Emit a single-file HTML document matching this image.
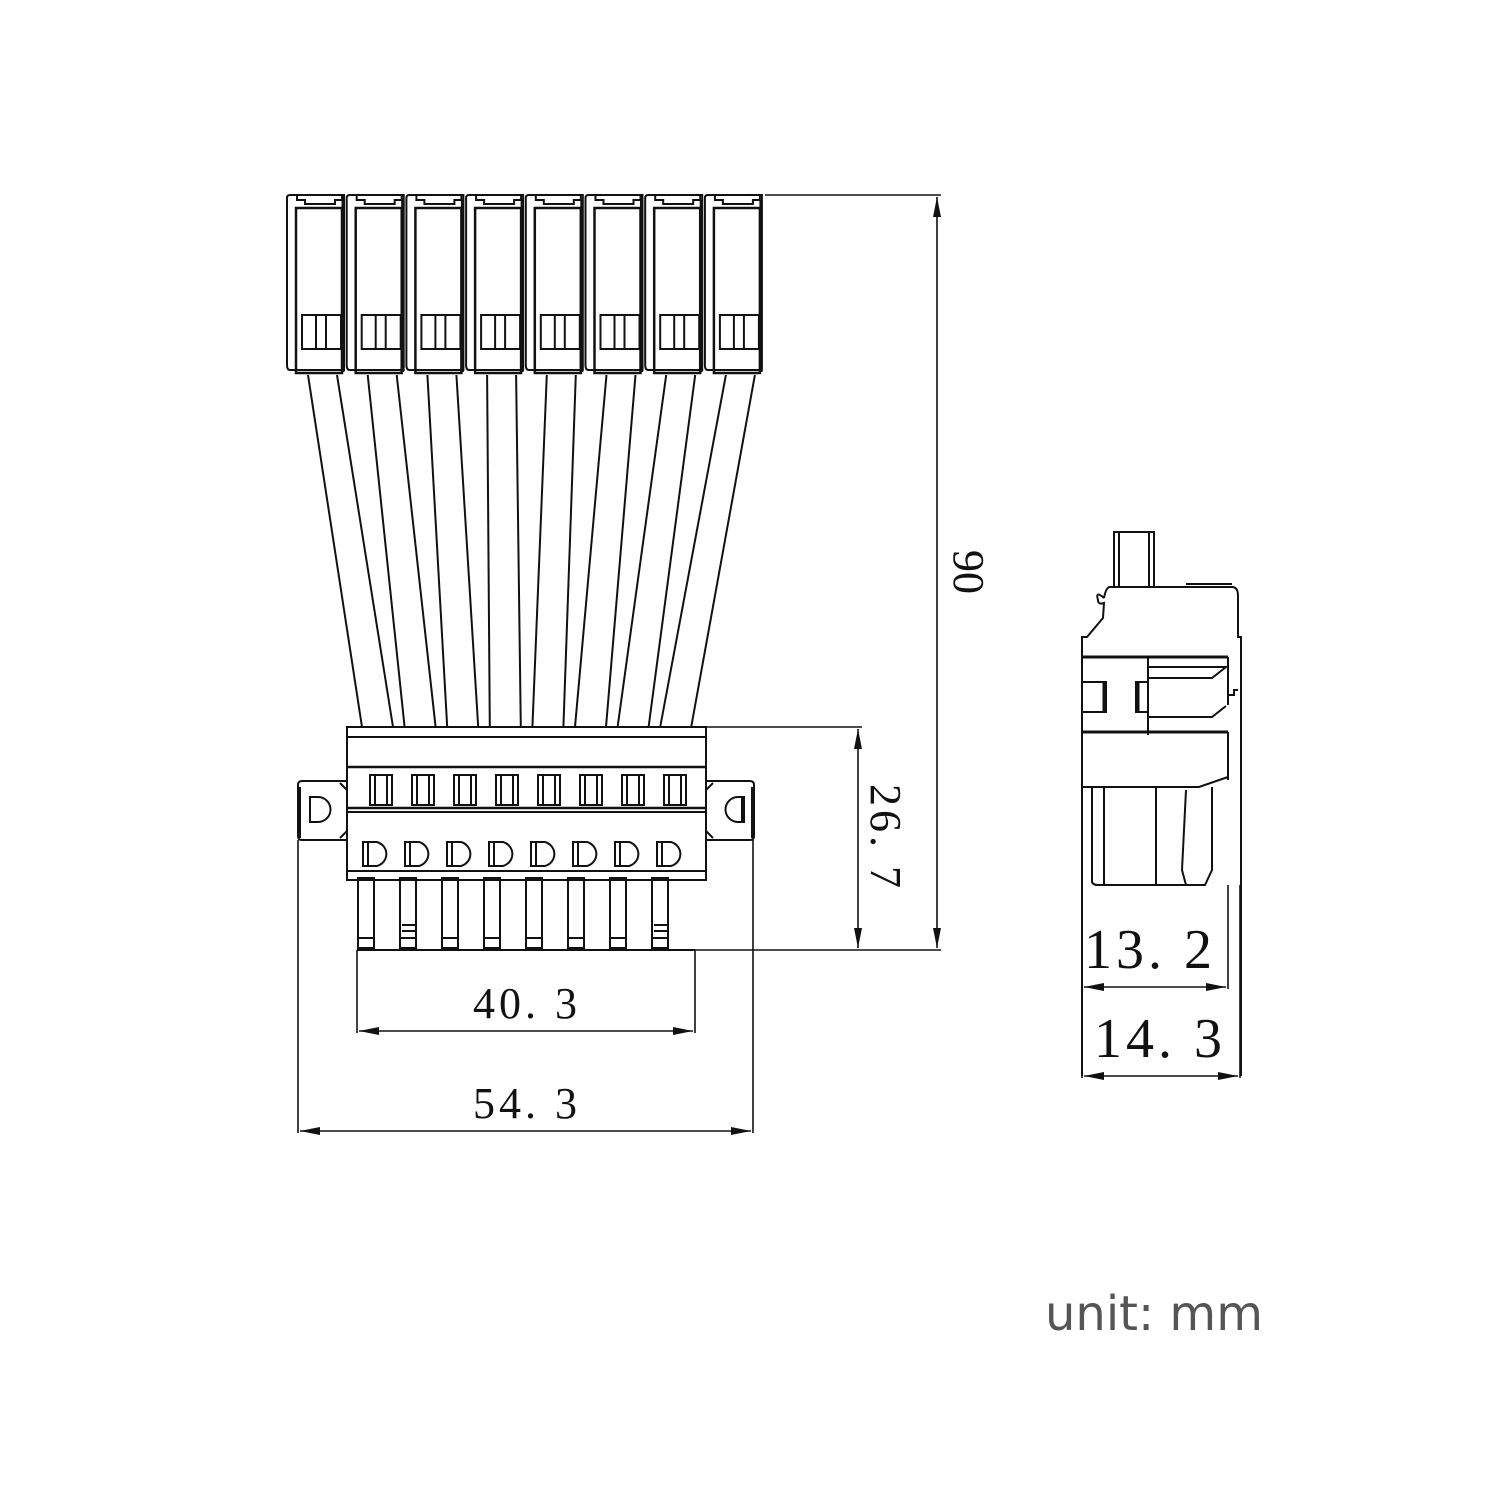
<!DOCTYPE html>
<html><head><meta charset="utf-8"><style>
html,body{margin:0;padding:0;background:#fff;width:1500px;height:1500px;overflow:hidden}
svg{display:block}
.d{font-family:"Liberation Serif",serif;fill:#111}
</style></head><body>
<svg id="s" width="1500" height="1500" viewBox="0 0 1500 1500" xmlns="http://www.w3.org/2000/svg">
<defs>
<marker id="a" viewBox="0 0 20 8" refX="20" refY="4" markerWidth="20" markerHeight="8" markerUnits="userSpaceOnUse" orient="auto-start-reverse"><path d="M0,0L20,4L0,8z" fill="#111"/></marker>
</defs>
<g id="g" fill="none" stroke="#111" stroke-width="2"></g>
<g stroke="#111" stroke-width="1.6" fill="none">
<line x1="765" y1="195" x2="941" y2="195"/>
<line x1="690" y1="950" x2="941" y2="950"/>
<line x1="937" y1="197" x2="937" y2="948" marker-start="url(#a)" marker-end="url(#a)"/>
<line x1="706" y1="727" x2="862" y2="727"/>
<line x1="858" y1="729" x2="858" y2="948" marker-start="url(#a)" marker-end="url(#a)"/>
<line x1="357" y1="950" x2="357" y2="1033"/>
<line x1="695" y1="950" x2="695" y2="1033"/>
<line x1="359" y1="1031" x2="693" y2="1031" marker-start="url(#a)" marker-end="url(#a)"/>
<line x1="298" y1="840" x2="298" y2="1133"/>
<line x1="753" y1="840" x2="753" y2="1133"/>
<line x1="300" y1="1131" x2="751" y2="1131" marker-start="url(#a)" marker-end="url(#a)"/>
<line x1="1082" y1="885" x2="1082" y2="1078"/>
<line x1="1228" y1="885" x2="1228" y2="989"/>
<line x1="1240" y1="885" x2="1240" y2="1078"/>
<line x1="1084" y1="987" x2="1226" y2="987" marker-start="url(#a)" marker-end="url(#a)"/>
<line x1="1084" y1="1076" x2="1238" y2="1076" marker-start="url(#a)" marker-end="url(#a)"/>
</g>
<text class="d" x="527" y="1018" font-size="44" text-anchor="middle" letter-spacing="4">40. 3</text>
<text class="d" x="527" y="1118" font-size="44" text-anchor="middle" letter-spacing="4">54. 3</text>
<text class="d" x="1150" y="968" font-size="56" text-anchor="middle" letter-spacing="4">13. 2</text>
<text class="d" x="1160" y="1057" font-size="56" text-anchor="middle" letter-spacing="4">14. 3</text>
<text class="d" font-size="44" text-anchor="middle" transform="translate(871,838) rotate(90)" letter-spacing="4">26. 7</text>
<text class="d" font-size="44" text-anchor="middle" transform="translate(954,572) rotate(90)">90</text>
<text x="1045" y="1330" font-family="'DejaVu Sans','Liberation Sans',sans-serif" font-size="48" fill="#555">unit: mm</text>
</svg>
<script>
var g=document.getElementById('g'),h='';
function L(a,b,c,d,w){h+='<line x1="'+a+'" y1="'+b+'" x2="'+c+'" y2="'+d+'"'+(w?' stroke-width="'+w+'"':'')+'/>';}
function R(x,y,w,hh,sw){h+='<rect x="'+x+'" y="'+y+'" width="'+w+'" height="'+hh+'"'+(sw?' stroke-width="'+sw+'"':'')+'/>';}
function P(d,sw){h+='<path d="'+d+'"'+(sw?' stroke-width="'+sw+'"':'')+'/>';}
for(var i=0;i<8;i++){var x=287+59.7*i;
 P('M'+(x+3)+',195 H'+(x+57)+' V370 H'+(x+3)+' Q'+x+',370 '+x+',365 V198 Q'+x+',195 '+(x+3)+',195');
 P('M'+(x+10)+',195 V200 H'+(x+18)+' V204 H'+(x+48)+' V200 H'+(x+55)+' V195');
 R(x+9,208,46,165,2.5);
 L(x+56,200,x+56,372,3);
 R(x+15,315,39,34);L(x+29,315,x+29,349);L(x+39,315,x+39,349);
 L(x+21,375,362+42.6*i,727);L(x+50,375,393+42.6*i,727);
}
R(347,727,359,153);
L(347,737,706,737);L(347,767,706,767,2.5);L(347,808,706,808,2.5);L(347,812,706,812);L(347,871,706,871);
P('M347,781 H302 Q298,781 298,785 V836 Q298,840 302,840 H347');
P('M347,790 L340,783 M347,831 L340,838');
P('M300,787 V838');
P('M318,797 H310 V822 H318 A12,12 0 0 0 318,797 Z');
P('M706,781 H750 Q754,781 754,785 V836 Q754,840 750,840 H706');
P('M706,790 L713,783 M706,831 L713,838');
P('M752,787 V838');
P('M738,797 H744 V822 H738 A12,12 0 0 1 738,797 Z');
L(742,797,742,822);
for(var i=0;i<8;i++){var x=370+42*i;
 R(x,775,22,30);L(x+5,775,x+5,805);L(x+17,775,x+17,805);
 var sx=363+42*i;
 P('M'+sx+',842 H'+(sx+14)+' A13,12.5 0 0 1 '+(sx+14)+',866 H'+sx+' Z',2);
 L(sx+5,842,sx+5,866);
 var px=358+42*i;
 R(px,878,16,70);L(px,938,px+16,938);
 if(i==1||i==7){L(px+2,925,px+16,925);L(px+2,931,px+16,931);}
}
L(357,950,695,950);
R(1114,532,40,55);L(1119,532,1119,587);L(1149,532,1149,587);
P('M1104,598 Q1095,590 1098,600 Q1098,605 1104,603 L1103,618 L1087,637 H1082 V1076');
P('M1104,598 Q1106,587 1110,587 H1232 Q1238,587 1238,596 V637 H1241 V1076');
L(1186,584,1232,584);
L(1082,657,1228,657,3);L(1082,732,1228,732,3);L(1148,657,1148,735);
P('M1148,667 H1226 L1212,678 H1148');P('M1148,717 H1212 L1226,706');
L(1228,657,1228,705);P('M1228,705 V695 H1234 V690 H1238');
R(1082,682,24,30);L(1104,682,1104,712,3);R(1136,682,12,30);L(1138,682,1138,712,3);
P('M1082,787 H1199 L1228,777');
L(1228,732,1228,780);
P('M1092,787 V882 Q1093,885 1098,885 H1205 L1212,870 V787');
L(1104,787,1104,885);L(1156,787,1156,885);
P('M1186,790 L1182,870 L1186,885');
g.innerHTML=h;
</script>
</body></html>
